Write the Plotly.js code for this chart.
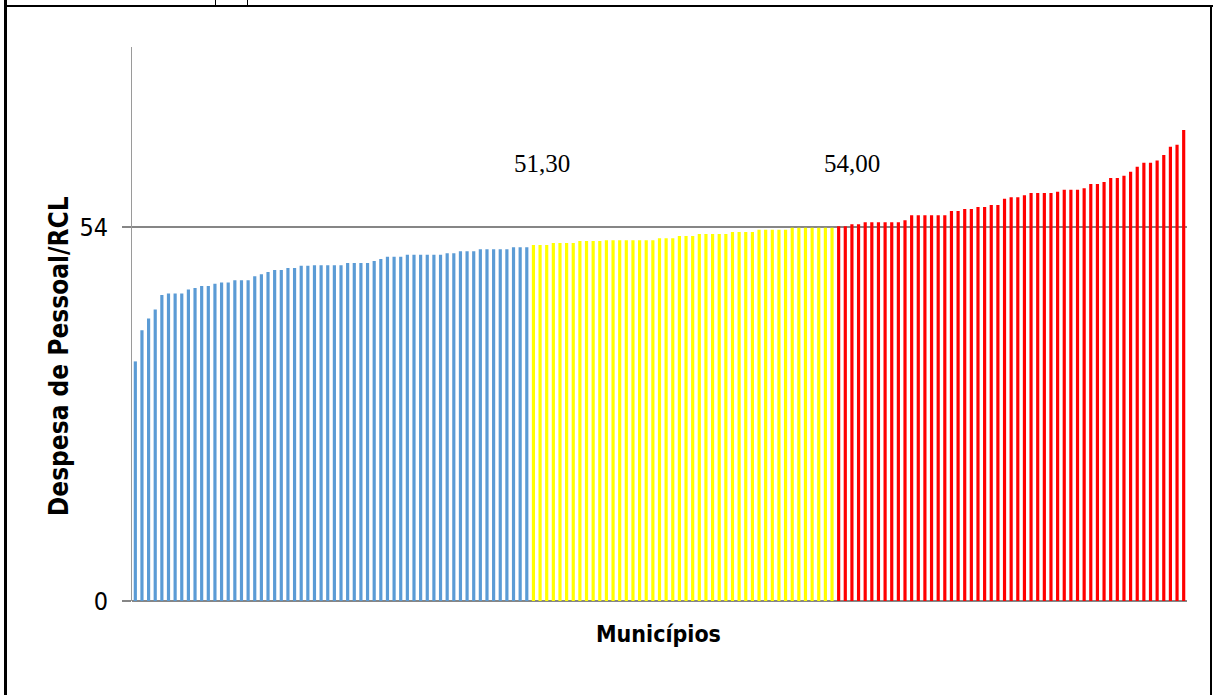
<!DOCTYPE html>
<html>
<head>
<meta charset="utf-8">
<script src="https://cdn.plot.ly/plotly-3.0.1.min.js"></script>
<style>
  html, body { margin: 0; padding: 0; background: #fff; }
  #wrap { position: relative; width: 1213px; height: 695px; overflow: hidden; }
  #chart { position: absolute; left: 0; top: 0; width: 1213px; height: 695px; }
  .ln { position: absolute; background: #000; }
</style>
</head>
<body>
<div id="wrap">
  <div id="chart"></div>
  <div class="ln" style="left:4px;top:0;width:3px;height:695px;"></div>
  <div class="ln" style="left:4px;top:5px;width:1209px;height:2px;"></div>
  <div class="ln" style="left:1210px;top:5px;width:2px;height:690px;"></div>
  <div class="ln" style="left:215px;top:0;width:1px;height:6px;"></div>
  <div class="ln" style="left:247px;top:0;width:1px;height:6px;"></div>
</div>
<script>
// Despesa de Pessoal / RCL per município, sorted ascending
const blueValues = [
  34.6, 39.1, 40.8, 42.1, 44.2, 44.4, 44.4, 44.4, 45.0, 45.2,
  45.5, 45.5, 45.8, 46.0, 46.0, 46.3, 46.3, 46.3, 46.9, 47.2,
  47.5, 47.8, 47.8, 48.1, 48.1, 48.4, 48.4, 48.5, 48.5, 48.5,
  48.5, 48.5, 48.8, 48.8, 48.8, 48.8, 49.1, 49.4, 49.7, 49.7,
  49.7, 50.0, 50.0, 50.0, 50.0, 50.0, 50.0, 50.2, 50.2, 50.5,
  50.5, 50.5, 50.8, 50.8, 50.8, 50.8, 50.8, 51.1, 51.1, 51.1
];
const yellowValues = [
  51.4, 51.4, 51.4, 51.7, 51.7, 51.7, 51.7, 52.0, 52.0, 52.0,
  52.0, 52.1, 52.1, 52.1, 52.1, 52.1, 52.1, 52.1, 52.1, 52.4,
  52.4, 52.4, 52.7, 52.7, 52.7, 53.0, 53.0, 53.0, 53.0, 53.0,
  53.3, 53.3, 53.3, 53.3, 53.6, 53.6, 53.6, 53.6, 53.6, 53.9,
  53.9, 53.9, 53.9, 53.9, 53.9, 53.9
];
const redValues = [
  54.1, 54.1, 54.4, 54.4, 54.7, 54.7, 54.7, 54.7, 54.7, 54.7,
  55.0, 55.7, 55.7, 55.7, 55.7, 55.7, 55.7, 56.3, 56.3, 56.6,
  56.6, 56.9, 56.9, 57.2, 57.2, 58.1, 58.3, 58.3, 58.6, 58.9,
  58.9, 58.9, 58.9, 59.1, 59.4, 59.4, 59.4, 59.6, 60.2, 60.2,
  60.5, 61.1, 61.1, 61.4, 62.0, 62.7, 63.3, 63.3, 63.6, 64.4,
  65.6, 65.9, 68.0
];
const tickValues = [0, 54];
const tickLabels = ['0', '54'];
const thresholdLabels = ['51,30', '54,00'];
const yTitle = 'Despesa de Pessoal/RCL';
const xTitle = 'Municípios';

// category positions (município rank)
const nBlue = blueValues.length, nYellow = yellowValues.length, nRed = redValues.length;
const total = nBlue + nYellow + nRed;
const idx = (start, n) => Array.from({length: n}, (_, i) => start + i + 1);
const blueX = idx(0, nBlue);
const yellowX = idx(nBlue, nYellow);
const redX = idx(nBlue + nYellow, nRed);

const traces = [
  {type: 'bar', x: blueX, y: blueValues, marker: {color: '#5B9BD5'}, hoverinfo: 'y'},
  {type: 'bar', x: yellowX, y: yellowValues, marker: {color: '#FFFF00'}, hoverinfo: 'y'},
  {type: 'bar', x: redX, y: redValues, marker: {color: '#FF0000'}, hoverinfo: 'y'}
];

const narrow = '"DejaVu Sans Condensed", "Liberation Sans", sans-serif';
const serif = '"Liberation Serif", "DejaVu Serif", serif';

const layout = {
  width: 1213, height: 695,
  margin: {l: 132, r: 26, t: 47, b: 94, pad: 0},
  paper_bgcolor: '#ffffff', plot_bgcolor: '#ffffff',
  showlegend: false,
  barmode: 'overlay',
  bargap: 0.52,
  xaxis: {
    type: 'linear', range: [0.5, total + 0.5],
    showticklabels: false, ticks: '', showgrid: false, zeroline: false, showline: false
  },
  yaxis: {
    range: [0, 80],
    tickmode: 'array', tickvals: tickValues, ticktext: tickLabels,
    ticks: 'outside', ticklen: 9, tickwidth: 2, tickcolor: '#868686',
    ticklabelstandoff: 9,
    tickfont: {family: narrow, size: 25, color: '#000'},
    showgrid: true, gridcolor: '#868686', gridwidth: 2,
    zeroline: true, zerolinecolor: '#868686', zerolinewidth: 2,
    showline: true, linecolor: '#9a9a9a', linewidth: 1
  },
  annotations: [
    {text: thresholdLabels[0], xref: 'paper', yref: 'paper', x: 0.3886, y: 0.789,
     xanchor: 'center', yanchor: 'middle', showarrow: false,
     font: {family: serif, size: 25, color: '#000'}},
    {text: thresholdLabels[1], xref: 'paper', yref: 'paper', x: 0.6825, y: 0.789,
     xanchor: 'center', yanchor: 'middle', showarrow: false,
     font: {family: serif, size: 25, color: '#000'}},
    {text: '<b>' + yTitle + '</b>', xref: 'paper', yref: 'paper', x: -0.0692, y: 0.442,
     xanchor: 'center', yanchor: 'middle', textangle: -90, showarrow: false,
     font: {family: narrow, size: 26, color: '#000'}},
    {text: '<b>' + xTitle + '</b>', xref: 'paper', yref: 'paper', x: 0.4986, y: -0.0596,
     xanchor: 'center', yanchor: 'middle', showarrow: false,
     font: {family: narrow, size: 23, color: '#000'}}
  ]
};

Plotly.newPlot('chart', traces, layout, {displayModeBar: false, staticPlot: true});
</script>
</body>
</html>
